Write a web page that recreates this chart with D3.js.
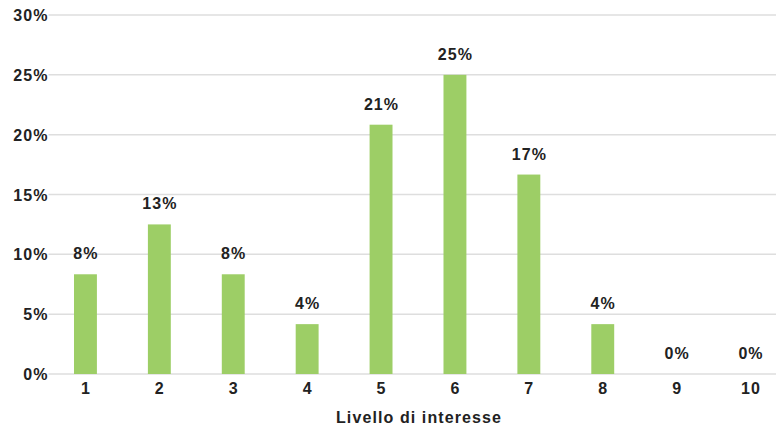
<!DOCTYPE html>
<html>
<head>
<meta charset="utf-8">
<script src="https://cdn.jsdelivr.net/npm/d3@7/dist/d3.min.js"></script>
<style>
  html, body { margin: 0; padding: 0; background: #fff; overflow: hidden; }
  svg text { font-family: "Liberation Sans", Arial, Helvetica, sans-serif; font-weight: bold; fill: #222; letter-spacing: 1.1px; }
</style>
</head>
<body>
<svg id="chart" width="776" height="429"></svg>
<script>
// Interest level (1-10) and share of responses
const categories = ["1", "2", "3", "4", "5", "6", "7", "8", "9", "10"];
const shares = [2/24, 3/24, 2/24, 1/24, 5/24, 6/24, 4/24, 1/24, 0, 0];
const yTicks = [0, 0.05, 0.10, 0.15, 0.20, 0.25, 0.30];
const axisTitle = "Livello di interesse";

const W = 776, H = 429;
const margin = { top: 15, bottom: 55, left: 48.5 };
// category bands run slightly past the right edge of the view
const bandEnd = 787.5;

const svg = d3.select("#chart");

const x = d3.scaleBand()
  .domain(categories)
  .range([margin.left, bandEnd])
  .paddingInner(0.69)
  .paddingOuter(0.345);

const y = d3.scaleLinear()
  .domain([0, 0.30])
  .range([H - margin.bottom, margin.top]);

const pct = d3.format(".0%");

// horizontal gridlines
svg.append("g")
  .selectAll("line")
  .data(yTicks)
  .join("line")
  .attr("x1", margin.left)
  .attr("x2", W)
  .attr("y1", d => y(d))
  .attr("y2", d => y(d))
  .attr("stroke", "#dedede")
  .attr("stroke-width", 1.5);

// y axis labels
const yAxis = d3.axisLeft(y).tickValues(yTicks).tickFormat(pct).tickSize(0).tickPadding(0);
svg.append("g")
  .attr("transform", `translate(${margin.left},0)`)
  .call(yAxis)
  .call(g => g.select(".domain").remove())
  .call(g => g.selectAll("text").attr("font-size", 16).attr("dy", "0.35em"));

// bars
svg.append("g")
  .selectAll("rect")
  .data(categories)
  .join("rect")
  .attr("x", d => x(d))
  .attr("width", x.bandwidth())
  .attr("y", (d, i) => y(shares[i]))
  .attr("height", (d, i) => y(0) - y(shares[i]))
  .attr("fill", "#9dce66");

// value labels
svg.append("g")
  .selectAll("text")
  .data(categories)
  .join("text")
  .attr("x", d => x(d) + x.bandwidth() / 2 + 0.5)
  .attr("y", (d, i) => y(shares[i]) - 15)
  .attr("text-anchor", "middle")
  .attr("font-size", 16)
  .text((d, i) => pct(shares[i]));

// x axis labels
const xAxis = d3.axisBottom(x).tickSize(0).tickPadding(9);
svg.append("g")
  .attr("transform", `translate(0,${y(0)})`)
  .call(xAxis)
  .call(g => g.select(".domain").remove())
  .call(g => g.selectAll("text").attr("font-size", 16).attr("dx", "0.5"));

// axis title
svg.append("text")
  .attr("x", 419)
  .attr("y", 423)
  .attr("text-anchor", "middle")
  .attr("font-size", 16)
  .text(axisTitle);
</script>
</body>
</html>
